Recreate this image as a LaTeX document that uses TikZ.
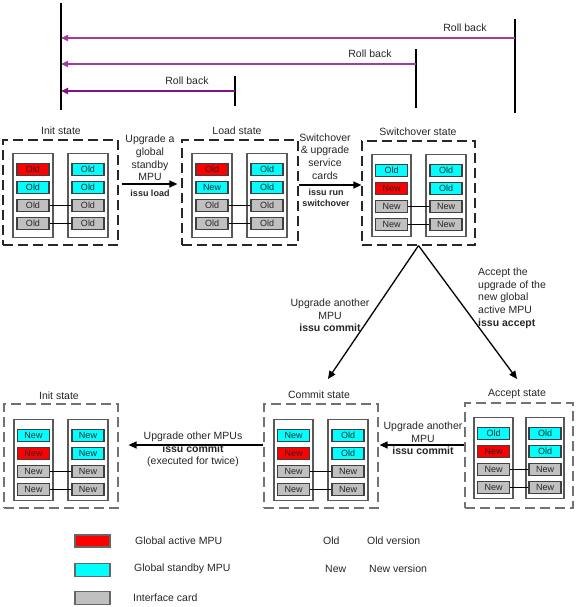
\documentclass[tikz,border=0pt]{standalone}
\usepackage{fontspec}
\setmainfont{Liberation Sans}
\usetikzlibrary{arrows.meta}
\definecolor{rbA}{RGB}{160,60,160}
\definecolor{rbB}{RGB}{130,20,130}
\definecolor{actc}{RGB}{255,0,0}
\definecolor{stbc}{RGB}{0,255,255}
\definecolor{ifc}{RGB}{192,192,192}
\newcommand\mpustack[6]{% prefix, center x, top y, width, height, list
  \node[mpucol, minimum width=#4, minimum height=#5, anchor=north] (#1) at (#2,#3) {};
  \foreach \cardidx/\cardtxt/\cardcol in {#6}
    \node[card, fill=\cardcol] (#1\cardidx) at (#2, {#3+16.5+18*(\cardidx-1)}) {\cardtxt};
}
\begin{document}
\begin{tikzpicture}[x=1pt,y=-1pt,
  every node/.style={font=\fontsize{10.5}{12.7}\selectfont, inner sep=0pt, text=black!85},
  card/.style={draw=black!75, line width=1.1pt, minimum width=32pt, minimum height=12pt, font=\fontsize{9}{10}\selectfont, text=black!85},
  mpucol/.style={draw=black!65, line width=1.1pt},
  frameT/.style={draw=black!85, dash pattern=on 10pt off 5pt, line width=1.2pt},
  frameB/.style={draw=black!55, dash pattern=on 10pt off 5pt, line width=1.2pt},
  link/.style={line width=1.8pt, black},
  flow/.style={line width=1.3pt, black, -{Triangle[length=8pt,width=7pt]}},
  rb/.style={line width=1.6pt, -{Triangle[length=7pt,width=6pt]}},
  tick/.style={line width=1.1pt, black},
  bold/.style={font=\fontsize{9}{10.6}\selectfont\bfseries},
  legbox/.style={draw=black!60, line width=1.3pt, minimum width=35pt, minimum height=12pt},
]
\useasboundingbox (0,0) rectangle (576,607);

% ---------- roll back timeline ----------
\coordinate (t0a) at (61,3);   \coordinate (t0b) at (61,110);
\coordinate (t1a) at (235,76); \coordinate (t1b) at (235,106);
\coordinate (t2a) at (416,49); \coordinate (t2b) at (416,108);
\coordinate (t3a) at (515,19); \coordinate (t3b) at (515,113);
\draw[tick] (t0a) -- (t0b);
\draw[tick] (t1a) -- (t1b);
\draw[tick] (t2a) -- (t2b);
\draw[tick] (t3a) -- (t3b);
\coordinate (r3) at (515,38);
\coordinate (r2) at (416,64);
\coordinate (r1) at (235,91);
\draw[rb, rbA] (r3) -- (r3 -| t0a);
\draw[rb, rbA] (r2) -- (r2 -| t0a);
\draw[rb, rbB] (r1) -- (r1 -| t0a);
\node (rbl3) at (465,28) {Roll back};
\node (rbl2) at (370,54) {Roll back};
\node (rbl1) at (187,81) {Roll back};

% ---------- top row frames ----------
\node[frameT, minimum width=115pt, minimum height=105pt] (initT) at (60.5,192.5) {};
\node[frameT, minimum width=116pt, minimum height=105pt] (loadT) at (240,192.5) {};
\node[frameT, minimum width=113pt, minimum height=104pt] (swT) at (418.5,193) {};
\node (initTt) at (61,131) {Init state};
\node (loadTt) at (237,131) {Load state};
\node (swTt) at (418,132) {Switchover state};

\mpustack{iTL}{33}{153}{40pt}{84pt}{1/Old/actc,2/Old/stbc,3/Old/ifc,4/Old/ifc}
\mpustack{iTR}{88}{153}{40pt}{84pt}{1/Old/stbc,2/Old/stbc,3/Old/ifc,4/Old/ifc}
\mpustack{lTL}{212}{153}{40pt}{84pt}{1/Old/actc,2/New/stbc,3/Old/ifc,4/Old/ifc}
\mpustack{lTR}{267}{153}{40pt}{84pt}{1/Old/stbc,2/Old/stbc,3/Old/ifc,4/Old/ifc}
\mpustack{sTL}{391.5}{154}{39pt}{82pt}{1/Old/stbc,2/New/actc,3/New/ifc,4/New/ifc}
\mpustack{sTR}{446}{154}{40pt}{82pt}{1/Old/stbc,2/Old/stbc,3/New/ifc,4/New/ifc}

% ---------- bottom row frames ----------
\node[frameB, minimum width=114pt, minimum height=104pt] (initB) at (61,456) {};
\node[frameB, minimum width=114pt, minimum height=104pt] (commitB) at (321,456) {};
\node[frameB, minimum width=108pt, minimum height=105pt] (acceptB) at (519,455.5) {};
\node (initBt) at (59,396) {Init state};
\node (commitBt) at (319,395) {Commit state};
\node (acceptBt) at (517,394) {Accept state};

\mpustack{iBL}{33.5}{419}{39pt}{81pt}{1/New/stbc,2/New/actc,3/New/ifc,4/New/ifc}
\mpustack{iBR}{88}{419}{40pt}{81pt}{1/New/stbc,2/New/stbc,3/New/ifc,4/New/ifc}
\mpustack{cBL}{293.5}{419}{39pt}{81pt}{1/New/stbc,2/New/actc,3/New/ifc,4/New/ifc}
\mpustack{cBR}{348}{419}{40pt}{81pt}{1/Old/stbc,2/Old/stbc,3/New/ifc,4/New/ifc}
\mpustack{aBL}{493.5}{417}{39pt}{81pt}{1/Old/stbc,2/New/actc,3/New/ifc,4/New/ifc}
\mpustack{aBR}{545}{417}{38pt}{81pt}{1/Old/stbc,2/Old/stbc,3/New/ifc,4/New/ifc}

% ---------- interface card links ----------
\foreach \p in {iT,lT,sT,iB,cB,aB}{
  \draw[link] (\p L3.east) -- (\p R3.west);
  \draw[link] (\p L4.east) -- (\p R4.west);
}

% ---------- transitions ----------
\draw[flow, shorten <=3pt, shorten >=4pt] ([yshift=8.5pt]initT.east) -- ([yshift=8.5pt]loadT.west);
\node[align=center] (up1) at (150,158) {Upgrade a\\global\\standby\\MPU};
\node[bold] (cmd1) at (150,193) {issu load};

\draw[flow] ([yshift=7.5pt]loadT.east) -- ([yshift=7.5pt]loadT.east -| swT.west);
\node[align=center] (up2) at (325,156.5) {Switchover\\\& upgrade\\service\\cards};
\node[bold, align=center] (cmd2) at (326,198) {issu run\\switchover};

\coordinate (cmIn) at (328,379);
\coordinate (acIn) at (517,379);
\draw[flow] (swT.south) -- (cmIn);
\draw[flow] (swT.south) -- (acIn);
\node[align=center] (up3) at (330,315.5) {Upgrade another\\MPU\\\textbf{issu commit}};
\node[align=left, anchor=west] (up4) at (478,298) {Accept the\\upgrade of the\\new global\\active MPU\\\textbf{issu accept}};

\draw[flow, shorten >=1pt] ([yshift=10.5pt]acceptB.west) -- ([yshift=10.5pt]acceptB.west -| commitB.east);
\node[align=center] (up5) at (423,438.5) {Upgrade another\\MPU\\\textbf{issu commit}};

\draw[flow, shorten >=10pt] ([yshift=11pt]commitB.west) -- ([yshift=11pt]commitB.west -| initB.east);
\node[align=center] (up6) at (193,449.5) {Upgrade other MPUs\\\textbf{issu commit}\\(executed for twice)};

% ---------- legend ----------
\node[legbox, fill=actc] (lgA) at (92.5,541) {};
\node[legbox, fill=stbc, minimum height=13pt] (lgS) at (92.5,570) {};
\node[legbox, fill=ifc, minimum height=13pt] (lgI) at (92.5,598) {};
\node[anchor=west] (lgAt) at (135,541) {Global active MPU};
\node[anchor=west] (lgSt) at (134,569) {Global standby MPU};
\node[anchor=west] (lgIt) at (133,598) {Interface card};
\node[anchor=west] (lgO) at (323,541) {Old};
\node[anchor=west] (lgOt) at (367,541) {Old version};
\node[anchor=west] (lgN) at (325,569) {New};
\node[anchor=west] (lgNt) at (369,569) {New version};
\end{tikzpicture}
\end{document}
